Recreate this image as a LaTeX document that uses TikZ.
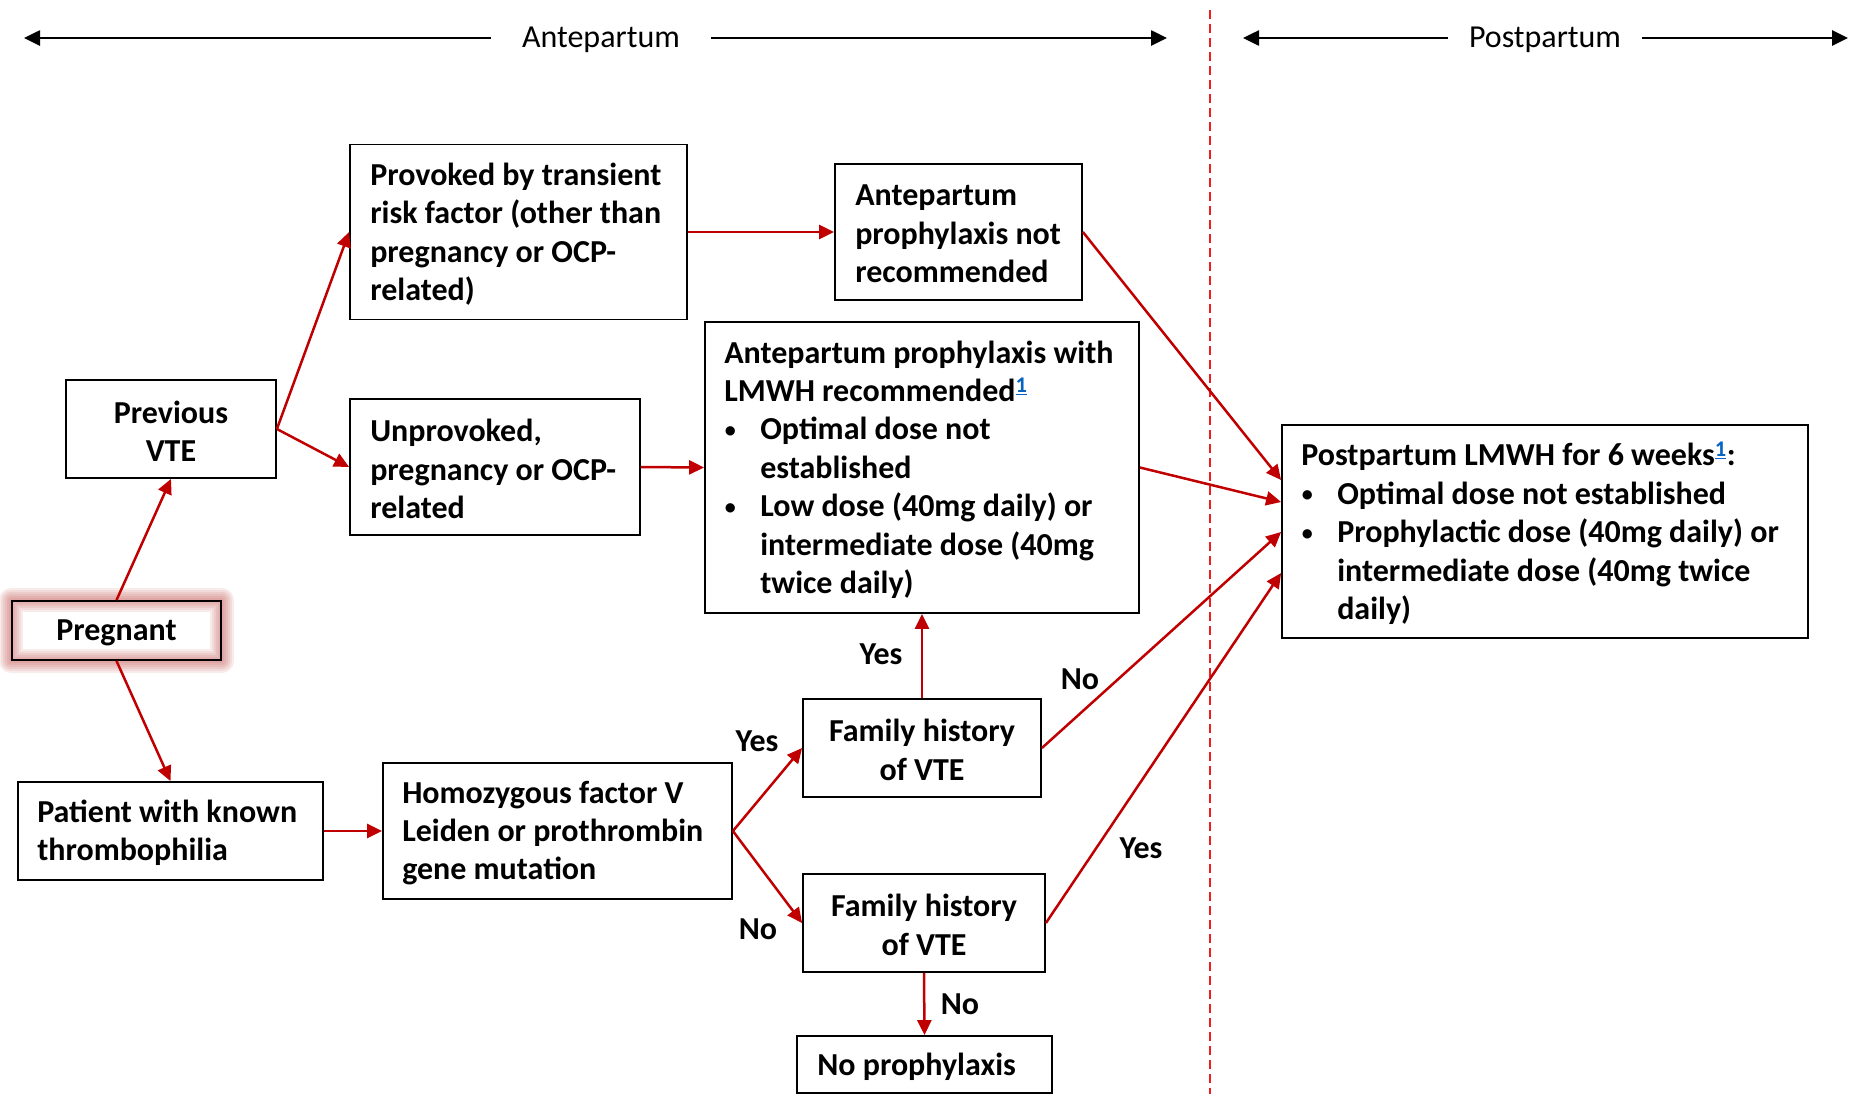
\documentclass[tikz,border=0pt]{standalone}
\usepackage{fontspec}
\setmainfont{Carlito}
\usetikzlibrary{arrows.meta,backgrounds}
\definecolor{arrowred}{RGB}{192,0,0}
\definecolor{glowred}{RGB}{192,80,77}
\definecolor{linkblue}{RGB}{5,99,193}
\definecolor{divred}{RGB}{240,30,30}
\newcommand\bulmark{\makebox[36pt][l]{\hspace{0.5pt}\raisebox{2.5pt}{\fontsize{22}{22}\selectfont •}}}
\newcommand\hangpad{\hspace*{36pt}}
\newcommand\fnref{\textsuperscript{\color{linkblue}\underline{1}}}
\begin{document}
\begin{tikzpicture}[x=1pt,y=-1pt,
  every node/.style={font=\bfseries\fontsize{32}{38.4}\selectfont, inner sep=0pt},
  box/.style={draw=black, line width=1.8pt},
  btext/.style={anchor=west, align=left},
  ctext/.style={align=center},
  conn/.style={draw=arrowred, line width=2.5pt, -{Triangle[length=15pt,width=14pt]}},
  harrow/.style={draw=black, line width=2.6pt, -{Triangle[length=16pt,width=15pt]}},
  hdr/.style={font=\fontsize{32}{38.4}\selectfont},
  divider/.style={draw=divred, line width=1.6pt, dash pattern=on 9pt off 5pt},
  glow/.style={draw=glowred, line join=round, opacity=0.11}
]
\useasboundingbox (0,0) rectangle (1856,1096);

% header
\coordinate (anteL) at (24,38);
\coordinate (anteR) at (1167,38);
\coordinate (postL) at (1243,38);
\coordinate (postR) at (1848,38);
\node[hdr, minimum width=220] (ante) at (601,40) {Antepartum};
\node[hdr, minimum width=194] (post) at (1545,40) {Postpartum};
\draw[harrow] (ante.west |- anteL) -- (anteL);
\draw[harrow] (ante.east |- anteR) -- (anteR);
\draw[harrow] (post.west |- postL) -- (postL);
\draw[harrow] (post.east |- postR) -- (postR);

% divider
\coordinate (divT) at (1210,10);
\coordinate (divB) at (1210,1094);
\draw[divider] (divT) -- (divB);

% boxes
\node[box, minimum width=337, minimum height=175] (provoked) at (518.5,232) {};
\node[btext] (provokedT) at ([xshift=21pt,yshift=-2pt]provoked.west) {Provoked by transient\\risk factor (other than\\pregnancy or OCP-\\related)};

\node[box, minimum width=247, minimum height=136] (notrec) at (958.5,232) {};
\node[btext] (notrecT) at ([xshift=21pt,yshift=-2pt]notrec.west) {Antepartum\\prophylaxis not\\recommended};

\node[box, minimum width=210, minimum height=98] (prevvte) at (171,429) {};
\node[ctext] (prevvteT) at ([yshift=-2pt]prevvte.center) {Previous\\VTE};

\node[box, minimum width=290, minimum height=136] (unprov) at (495,467) {};
\node[btext] (unprovT) at ([xshift=21pt,yshift=-2pt]unprov.west) {Unprovoked,\\pregnancy or OCP-\\related};

\node[box, minimum width=434, minimum height=291] (lmwh) at (922,467.5) {};
\node[btext] (lmwhT) at ([xshift=20pt,yshift=-2pt]lmwh.west) {Antepartum prophylaxis with\\LMWH recommended\fnref\\\bulmark Optimal dose not\\\hangpad established\\\bulmark Low dose (40mg daily) or\\\hangpad intermediate dose (40mg\\\hangpad twice daily)};

\node[box, minimum width=526, minimum height=213] (postp) at (1545,531.5) {};
\node[btext] (postpT) at ([xshift=20pt,yshift=-2pt]postp.west) {Postpartum LMWH for 6 weeks\fnref:\\\bulmark Optimal dose not established\\\bulmark Prophylactic dose (40mg daily) or\\\hangpad intermediate dose (40mg twice\\\hangpad daily)};

\node[box, minimum width=209, minimum height=59] (pregnant) at (116.5,630.5) {};
\node[ctext] (pregnantT) at ([yshift=-2pt]pregnant.center) {Pregnant};
\begin{pgfonlayer}{background}
\foreach \w in {24,20,16,12,8,4}
  \draw[glow, line width=\w pt] (pregnant.north west) rectangle (pregnant.south east);
\end{pgfonlayer}

\node[box, minimum width=305, minimum height=98] (patient) at (170.5,831) {};
\node[btext] (patientT) at ([xshift=20pt,yshift=-2pt]patient.west) {Patient with known\\thrombophilia};

\node[box, minimum width=349, minimum height=136] (homoz) at (557.5,831) {};
\node[btext] (homozT) at ([xshift=20pt,yshift=-2pt]homoz.west) {Homozygous factor V\\Leiden or prothrombin\\gene mutation};

\node[box, minimum width=238, minimum height=98] (fh1) at (922,748) {};
\node[ctext] (fh1T) at ([yshift=-2pt]fh1.center) {Family history\\of VTE};
\node[box, minimum width=242, minimum height=98] (fh2) at (924,923) {};
\node[ctext] (fh2T) at ([yshift=-2pt]fh2.center) {Family history\\of VTE};

\node[box, minimum width=255, minimum height=57] (noproph) at (924.5,1064.5) {};
\node[btext] (noprophT) at ([xshift=21pt,yshift=-2pt]noproph.west) {No prophylaxis};

% connectors
\draw[conn] (pregnant.north) -- (prevvte.south);
\draw[conn] (pregnant.south) -- (patient.north);
\draw[conn] (prevvte.east) -- (provoked.west);
\draw[conn] (prevvte.east) -- (unprov.west);
\draw[conn] (provoked.east) -- (notrec.west);
\draw[conn] (unprov.east) -- (lmwh.west);
\draw[conn] (patient.east) -- (homoz.west);
\draw[conn] (homoz.east) -- (fh1.west);
\draw[conn] (homoz.east) -- (fh2.west);
\draw[conn] (fh1.north) -- (lmwh.south);
\draw[conn] (fh2.south) -- (noproph.north);
\draw[conn] (notrec.east) -- ([yshift=51.5pt]postp.west);
\draw[conn] (lmwh.east) -- ([yshift=29.5pt]postp.west);
\draw[conn] (fh1.east) -- ([yshift=-0.5pt]postp.west);
\draw[conn] (fh2.east) -- ([yshift=-41.5pt]postp.west);

% labels
\node (yes1) at (881,654.5) {Yes};
\node (no1) at (1080,679.5) {No};
\node (yes2) at (757,741.5) {Yes};
\node (no2) at (758,929.5) {No};
\node (yes3) at (1141,848.5) {Yes};
\node (no3) at (960,1004.5) {No};
\end{tikzpicture}
\end{document}
